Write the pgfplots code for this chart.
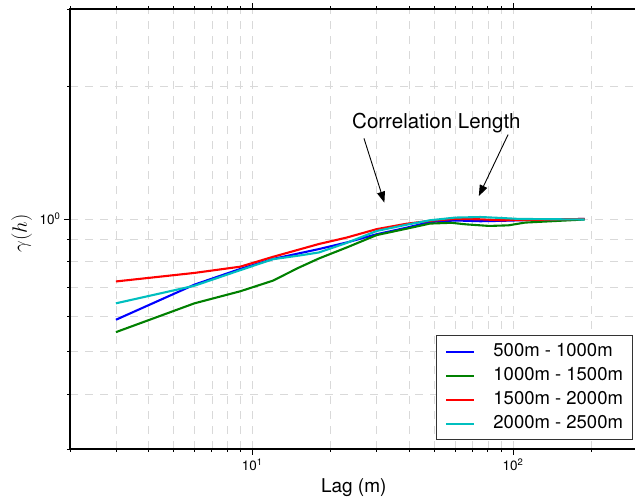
\documentclass[border=0pt]{standalone}
\usepackage{pgfplots}
\pgfplotsset{compat=1.18}
\usepackage{fontspec}
\setmainfont{TeX Gyre Heros}
\usetikzlibrary{arrows.meta}
\definecolor{mplgreen}{rgb}{0,0.5,0}
\definecolor{mplcyan}{rgb}{0,0.75,0.75}
\begin{document}
\begin{tikzpicture}
\useasboundingbox (-70pt,-53pt) rectangle (565pt,449pt);
\begin{axis}[
  xmode=log, ymode=log,
  scale only axis, width=567.5pt, height=440pt,
  at={(0pt,0pt)}, anchor=south west,
  xmin=2, xmax=300, ymin=0.3, ymax=3,
  xtick={10,100}, xticklabels={10\textsuperscript{1},10\textsuperscript{2}},
  ytick={1}, yticklabels={10\textsuperscript{0}},
  minor xtick={2,3,4,5,6,7,8,9,20,30,40,50,60,70,80,90,200},
  minor ytick={0.3,0.4,0.5,0.6,0.7,0.8,0.9,2,3},
  grid=both,
  major grid style={dash pattern=on 8pt off 7pt, black!15, line width=0.6pt},
  minor grid style={dash pattern=on 8pt off 7pt, black!15, line width=0.6pt},
  tick align=outside, major tick length=6pt, minor tick length=3pt,
  tick style={black, line width=0.8pt},
  axis line style={line width=1.3pt},
  ticklabel style={font=\fontsize{13.5}{16}\selectfont},
  xlabel={Lag (m)},
  xlabel style={font=\fontsize{19}{22}\selectfont, at={(axis description cs:0.5,-0.0886)}, anchor=center},
  ylabel={$\gamma(h)$},
  ylabel style={font=\huge, at={(axis description cs:-0.085,0.49)}, anchor=center},
  legend style={at={(0.991,0.02)}, anchor=south east, font=\fontsize{18.5}{21}\selectfont,
    draw=black!80, line width=0.8pt, fill=white, inner xsep=9pt, inner ysep=8pt,
    row sep=8pt, cells={anchor=west},
    nodes={inner sep=0pt, text height=12.5pt, text depth=3.5pt},
    /tikz/every odd column/.append style={column sep=18pt}},
  legend image code/.code={\draw[#1] (0pt,0pt) -- (28pt,0pt);},
]
\addplot[blue, line width=2.1pt] table {
x y
3 0.590
6 0.709
9 0.770
12 0.811
18 0.854
23 0.884
30 0.923
39 0.955
48 0.984
60 0.992
75 0.988
90 0.990
120 0.995
188 1.000
};
\addlegendentry{500m - 1000m}
\addplot[mplgreen, line width=2.1pt] table {
x y
3 0.553
6 0.643
9 0.685
12 0.724
15 0.774
18 0.813
23 0.861
30 0.919
39 0.950
48 0.976
58 0.980
66 0.972
81 0.964
96 0.967
111 0.981
188 0.997
};
\addlegendentry{1000m - 1500m}
\addplot[red, line width=2.1pt] table {
x y
3 0.721
6 0.754
9 0.779
12 0.820
18 0.877
23 0.907
30 0.948
39 0.975
48 0.990
60 1.000
75 0.998
90 0.993
120 0.995
188 1.000
};
\addlegendentry{1500m - 2000m}
\addplot[mplcyan, line width=2.1pt] table {
x y
3 0.643
6 0.705
9 0.765
12 0.810
15 0.825
18 0.839
23 0.882
30 0.939
39 0.970
48 0.993
60 1.007
75 1.010
90 1.005
105 1.000
188 0.997
};
\addlegendentry{2000m - 2500m}
\node[font=\fontsize{20.5}{24}\selectfont] at (axis cs:50.8,1.651) {Correlation Length};
\draw[-{Triangle[length=11pt,width=8pt]}, line width=0.9pt] (axis cs:26.8,1.525) -- (axis cs:32.1,1.089);
\draw[-{Triangle[length=11pt,width=8pt]}, line width=0.9pt] (axis cs:95.7,1.555) -- (axis cs:73.9,1.127);
\end{axis}
\end{tikzpicture}
\end{document}
